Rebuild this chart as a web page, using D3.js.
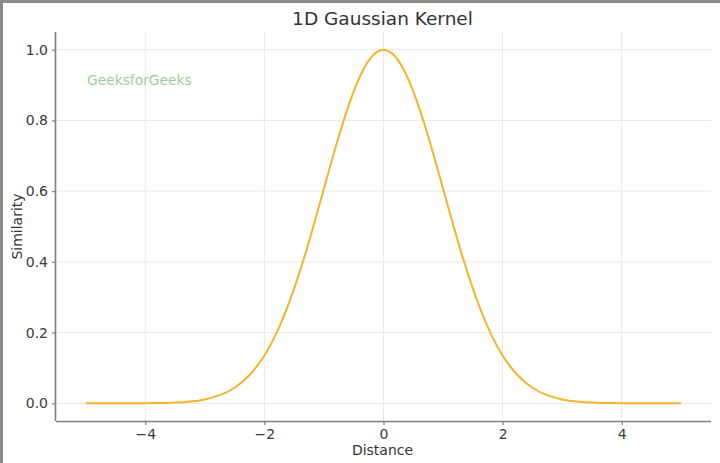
<!DOCTYPE html>
<html>
<head>
<meta charset="utf-8">
<script src="https://cdn.jsdelivr.net/npm/d3@7"></script>
<style>
  html, body { margin: 0; padding: 0; background: #fff; }
  svg { display: block; }
</style>
</head>
<body>
<svg id="chart" width="720" height="463"></svg>
<script>
// Data
const distance = [-5, -4.75, -4.5, -4.25, -4, -3.75, -3.5, -3.25, -3, -2.75, -2.5, -2.25, -2, -1.75, -1.5, -1.25, -1, -0.75, -0.5, -0.25, 0,
  0.25, 0.5, 0.75, 1, 1.25, 1.5, 1.75, 2, 2.25, 2.5, 2.75, 3, 3.25, 3.5, 3.75, 4, 4.25, 4.5, 4.75, 5];
const similarity = [0.000, 0.000, 0.000, 0.000, 0.000, 0.001, 0.002, 0.005, 0.011, 0.023, 0.044, 0.080, 0.135, 0.216, 0.325, 0.458, 0.607, 0.755, 0.882, 0.969, 1.000,
  0.969, 0.882, 0.755, 0.607, 0.458, 0.325, 0.216, 0.135, 0.080, 0.044, 0.023, 0.011, 0.005, 0.002, 0.001, 0.000, 0.000, 0.000, 0.000, 0.000];
const xTicks = [-4, -2, 0, 2, 4];
const yTicks = [0.0, 0.2, 0.4, 0.6, 0.8, 1.0];
const chartTitle = "1D Gaussian Kernel";
const xLabel = "Distance";
const yLabel = "Similarity";
const watermark = "GeeksforGeeks";

(function () {
const svg = d3.select("#chart");
const W = 720, H = 463;
const mL = 56, mR = 711, mT = 32, mB = 421;
const font = "'DejaVu Sans', sans-serif";

// frame
svg.append("rect").attr("x", 0).attr("y", 0).attr("width", W).attr("height", 3).attr("fill", "#8a8a8a");
svg.append("rect").attr("x", 0).attr("y", 0).attr("width", 3).attr("height", H).attr("fill", "#8a8a8a");

const x = d3.scaleLinear().domain([-5.5, 5.5]).range([mL, mR]);
const y = d3.scaleLinear().domain([-0.05, 1.05]).range([mB, mT]);

// grid
const grid = svg.append("g");
grid.selectAll(".vg").data(xTicks).join("line")
  .attr("x1", d => x(d)).attr("x2", d => x(d)).attr("y1", mT).attr("y2", mB)
  .attr("stroke", "#e9e9e9").attr("stroke-width", 1);
grid.selectAll(".hg").data(yTicks).join("line")
  .attr("x1", mL).attr("x2", mR).attr("y1", d => y(d)).attr("y2", d => y(d))
  .attr("stroke", "#e9e9e9").attr("stroke-width", 1);

// line
const pts = distance.map((d, i) => [d, similarity[i]]);
svg.append("path").datum(pts)
  .attr("fill", "none").attr("stroke", "#f5b42e").attr("stroke-width", 2)
  .attr("d", d3.line().x(d => x(d[0])).y(d => y(d[1])).curve(d3.curveNatural));

// axes
const xAxis = svg.append("g").attr("transform", `translate(0,${mB})`)
  .call(d3.axisBottom(x).tickValues(xTicks).tickSize(4).tickPadding(4).tickFormat(d => d3.format("d")(d).replace("-", "\u2212")));
const yAxis = svg.append("g").attr("transform", `translate(${mL},0)`)
  .call(d3.axisLeft(y).tickValues(yTicks).tickSize(4).tickPadding(4).tickFormat(d3.format(".1f")));
[xAxis, yAxis].forEach(a => {
  a.select(".domain").attr("stroke", "#7f7f7f").attr("stroke-width", 1.6);
  a.selectAll(".tick line").attr("stroke", "#7f7f7f").attr("stroke-width", 1.2);
  a.selectAll(".tick text").attr("fill", "#3a3a3a").style("font-family", font).style("font-size", "14px");
});
xAxis.select(".domain").attr("d", `M${mL},0.5H${mR}`);
yAxis.select(".domain").attr("d", `M-0.5,${mT}V${mB}`);

// title and labels
svg.append("text").attr("x", (mL + mR) / 2 - 1).attr("y", 25).attr("text-anchor", "middle")
  .style("font-family", font).style("font-size", "18.5px").attr("fill", "#333").text(chartTitle);
svg.append("text").attr("x", (mL + mR) / 2 - 1).attr("y", 455).attr("text-anchor", "middle")
  .style("font-family", font).style("font-size", "14px").attr("fill", "#333").text(xLabel);
svg.append("text").attr("transform", `translate(22,${(mT + mB) / 2}) rotate(-90)`).attr("text-anchor", "middle")
  .style("font-family", font).style("font-size", "14px").attr("fill", "#333").text(yLabel);
svg.append("text").attr("x", 87).attr("y", 85)
  .style("font-family", font).style("font-size", "13.8px").attr("fill", "#9acf9a").text(watermark);
})();
</script>
</body>
</html>
